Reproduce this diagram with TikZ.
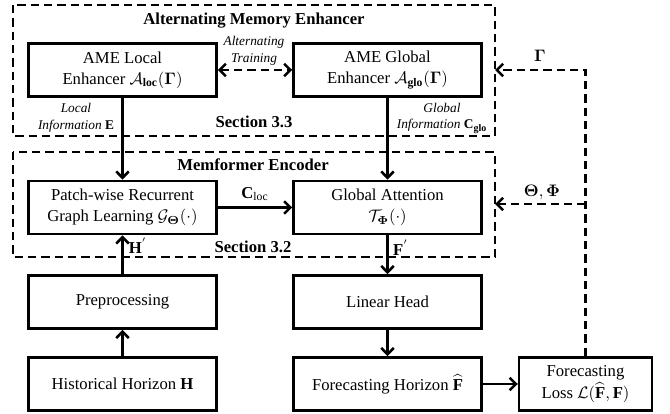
\documentclass[tikz,border=0pt]{standalone}
\usepackage{amsmath,amsfonts,amssymb}
\usepackage{fontspec}
\setmainfont{Liberation Serif}
\usepackage{tikz}
\usetikzlibrary{arrows.meta,calc,positioning}

\begin{document}
\begin{tikzpicture}[x=0.6pt,y=-0.6pt,
		>={Straight Barb[length=3.8pt,width=7.5pt]},
		block/.style={draw,line width=1.5pt,align=center,minimum width=112.8pt,minimum height=32pt,font=\fontsize{10}{12.5}\selectfont},
		groupbox/.style={line width=1.5pt,dash pattern=on 5pt off 3pt},
		flow/.style={line width=1.5pt,->},
		feedback/.style={line width=1.5pt,dash pattern=on 5pt off 3pt,->},
		grouptitle/.style={font=\fontsize{10}{12}\selectfont\bfseries},
		smalllabel/.style={align=center,font=\fontsize{8}{10}\selectfont\itshape},
		arrowlabel/.style={font=\fontsize{10}{12}\selectfont}]
								\useasboundingbox (0,0) rectangle (670,414);

								\coordinate (ame-nw) at (13,5);
								\coordinate (ame-se) at (495,136);
								\coordinate (enc-nw) at (13,152);
								\coordinate (enc-se) at (495,257);
								\coordinate (gammain) at (495,70);
								\coordinate (thetain) at (495,204);

							\draw[groupbox] (ame-nw) rectangle (ame-se);
							\draw[groupbox] (enc-nw) rectangle (enc-se);
							\node[grouptitle] (ametitle) at (254,21) {Alternating Memory Enhancer};
							\node[grouptitle] (enctitle) at (253,165) {Memformer Encoder};
							\node[grouptitle] (sec33) at (254,122) {Section 3.3};
							\node[grouptitle] (sec32) at (253,247) {Section 3.2};

								\node[block] (ameloc) at (122.5,70) {AME Local\\Enhancer $\mathcal{A}_{\mathbf{loc}}(\boldsymbol{\Gamma})$};
								\node[block] (ameglo) at (387.5,70) {AME Global\\Enhancer $\mathcal{A}_{\mathbf{glo}}(\boldsymbol{\Gamma})$};
								\node[block] (patch) at (122.5,207.5) {Patch-wise Recurrent\\Graph Learning $\mathcal{G}_{\boldsymbol{\Theta}}(\cdot)$};
								\node[block] (gatt) at (387.5,207.5) {Global Attention\\$\mathcal{T}_{\boldsymbol{\Phi}}(\cdot)$};
								\node[block] (prep) at (122.5,302) {Preprocessing};
								\node[block] (hist) at (122.5,384) {Historical Horizon \textbf{H}};
								\node[block] (linhead) at (387.5,302) {Linear Head};
								\node[block] (fchor) at (387.5,384) {Forecasting Horizon $\widehat{\mathbf{F}}$};
								\node[block,minimum width=79.8pt] (fcloss) at (585.5,384) {Forecasting\\[1pt]Loss $\mathcal{L}(\widehat{\mathbf{F}},\mathbf{F})$};

							\draw[feedback,<->] (ameloc) -- (ameglo);
							\node[smalllabel] (alttrain) at (254,51) {Alternating\\Training};

							\draw[flow] (ameloc) -- (patch);
							\node[smalllabel] (locinfo) at (76,118) {Local\\Information \textnormal{\textbf{E}}};
							\draw[flow] (ameglo) -- (gatt);
							\node[smalllabel] (gloinfo) at (442,118) {Global\\Information $\mathbf{C}_{\mathbf{glo}}$};

							\draw[flow] (patch) -- (gatt) node[arrowlabel,midway,above] {$\mathbf{C}_{\mathrm{loc}}$};
							\draw[flow] (hist) -- (prep);
							\draw[flow] (prep) -- (patch);
							\node[arrowlabel] (hprime) at (138,246) {$\mathbf{H}^{'}$};
							\draw[flow] (gatt) -- (linhead);
							\node[arrowlabel] (fprime) at (401,248) {$\mathbf{F}^{'}$};
							\draw[flow] (linhead) -- (fchor);
							\draw[flow] (fchor) -- (fcloss);

							\draw[feedback] (fcloss.north) |- (gammain);
							\draw[feedback] (fcloss.north |- thetain) -- (thetain);
							\node[arrowlabel] (gammalabel) at (540,56) {$\boldsymbol{\Gamma}$};
							\node[arrowlabel] (thetalabel) at (542,192) {$\boldsymbol{\Theta},\boldsymbol{\Phi}$};
\end{tikzpicture}
\end{document}
